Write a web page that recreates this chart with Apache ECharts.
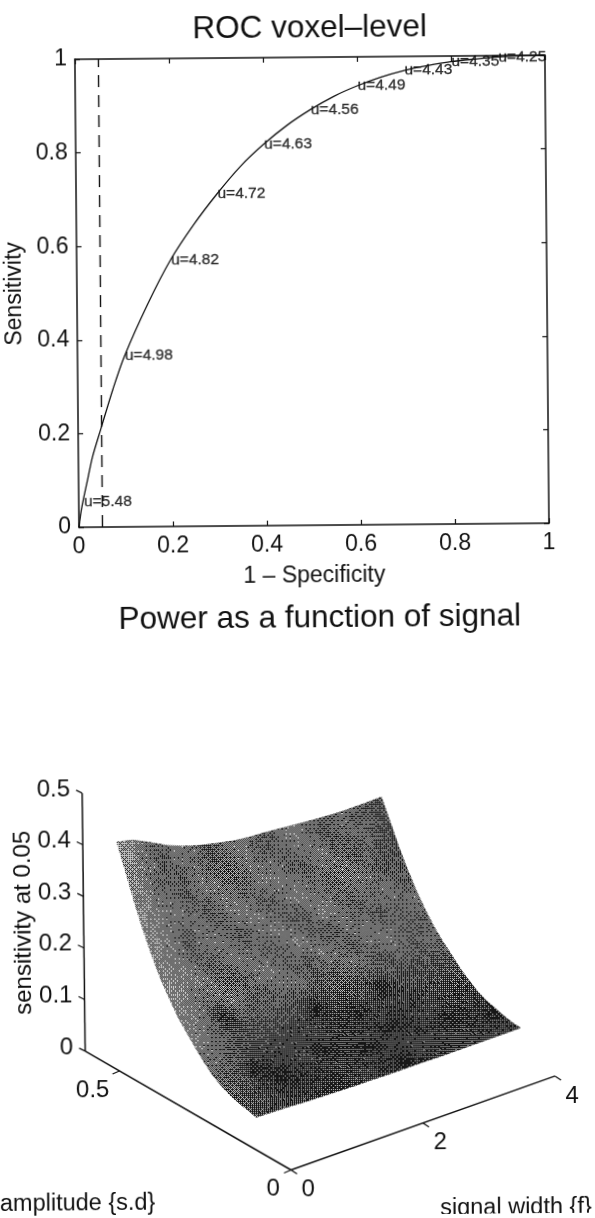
<!DOCTYPE html>
<html>
<head>
<meta charset="utf-8">
<script src="https://cdn.jsdelivr.net/npm/echarts@6/dist/echarts.min.js"></script>
<style>
html, body { margin: 0; padding: 0; background: #fff; overflow: hidden; }
/* the source page was scanned slightly crooked */
#chart { width: 595px; height: 1218px; transform-origin: 0 1218px; transform: rotate(-0.5deg); }
</style>
</head>
<body>
<div id="chart"></div>
<script>
// ROC curve
var rocX = [0, 0.002, 0.005, 0.01, 0.02, 0.03, 0.05, 0.075, 0.1, 0.15, 0.2, 0.25, 0.3, 0.35, 0.4, 0.45, 0.5, 0.55, 0.6, 0.65, 0.7, 0.75, 0.8, 0.85, 0.9, 0.95, 1];
var rocY = [0, 0.015, 0.035, 0.06, 0.105, 0.15, 0.215, 0.295, 0.365, 0.475, 0.57, 0.645, 0.71, 0.768, 0.815, 0.855, 0.888, 0.916, 0.938, 0.956, 0.97, 0.98, 0.988, 0.993, 0.997, 0.999, 1];
var dashX = [0.05, 0.05];
var dashY = [0, 1];
var uNames = ['u=5.48', 'u=4.98', 'u=4.82', 'u=4.72', 'u=4.63', 'u=4.56', 'u=4.49', 'u=4.43', 'u=4.35', 'u=4.25'];
var uX = [0.01, 0.1, 0.2, 0.3, 0.4, 0.5, 0.6, 0.7, 0.8, 0.9];
var uY = [0.055, 0.365, 0.57, 0.71, 0.815, 0.888, 0.938, 0.97, 0.988, 0.997];

// power surface: rows follow amplitudes, columns follow widths
var widths = [0, 0.25, 0.5, 0.75, 1, 1.25, 1.5, 1.75, 2, 2.25, 2.5, 2.75, 3, 3.25, 3.5, 3.75, 4];
var amplitudes = [0.1, 0.125, 0.15, 0.175, 0.2, 0.225, 0.25, 0.275, 0.3, 0.325, 0.35, 0.375, 0.4, 0.425, 0.45, 0.475, 0.5];
var power = [
    [.064,.063,.062,.060,.059,.058,.057,.057,.056,.056,.056,.055,.055,.055,.055,.055,.055],
    [.068,.067,.065,.063,.061,.060,.059,.058,.058,.057,.057,.057,.056,.056,.056,.056,.056],
    [.072,.071,.069,.067,.065,.064,.063,.062,.062,.061,.061,.061,.060,.060,.060,.060,.060],
    [.077,.076,.074,.072,.070,.069,.068,.067,.067,.066,.066,.066,.065,.065,.065,.065,.065],
    [.085,.084,.081,.079,.076,.075,.074,.073,.072,.072,.071,.071,.070,.070,.070,.070,.070],
    [.096,.095,.092,.088,.086,.084,.083,.081,.081,.080,.080,.079,.078,.078,.078,.078,.078],
    [.112,.110,.107,.103,.099,.097,.096,.094,.093,.093,.092,.091,.090,.090,.090,.090,.090],
    [.130,.128,.123,.118,.115,.112,.110,.108,.107,.106,.105,.104,.104,.103,.103,.103,.103],
    [.150,.148,.143,.137,.133,.130,.128,.125,.124,.123,.123,.122,.121,.120,.120,.120,.120],
    [.170,.167,.162,.155,.151,.147,.145,.142,.141,.140,.139,.138,.137,.136,.136,.136,.136],
    [.196,.193,.186,.178,.173,.169,.165,.162,.161,.160,.158,.157,.156,.155,.155,.155,.155],
    [.225,.221,.213,.205,.198,.194,.190,.186,.185,.183,.182,.180,.179,.178,.178,.178,.178],
    [.260,.256,.246,.236,.229,.223,.219,.215,.213,.211,.210,.208,.206,.205,.205,.205,.205],
    [.300,.295,.284,.272,.264,.257,.252,.248,.245,.243,.241,.239,.237,.236,.236,.236,.236],
    [.345,.339,.326,.313,.302,.295,.289,.284,.281,.279,.276,.274,.272,.270,.270,.270,.270],
    [.395,.388,.374,.358,.347,.338,.331,.325,.322,.320,.317,.314,.312,.310,.310,.310,.310],
    [.444,.436,.420,.403,.390,.380,.373,.366,.362,.360,.357,.354,.351,.349,.348,.348,.349]
];
// brightness of each surface patch, 0 black to 100 white
var shades = [
    [32,30,28,27,26,24,26,25,22,13,24,26,28,27,26,27],
    [34,30,27,26,25,24,25,26,24,16,26,24,27,28,25,24],
    [36,31,26,16,20,25,27,26,25,26,27,26,28,24,26,15],
    [38,33,25,14,24,27,26,24,14,25,27,24,25,14,26,22],
    [42,34,13,24,28,27,13,26,25,26,13,25,28,26,27,28],
    [46,38,28,30,27,26,28,27,26,25,27,26,24,28,27,30],
    [50,42,32,33,30,29,31,28,27,14,28,30,29,28,30,32],
    [54,44,34,36,34,33,32,14,30,32,33,14,32,34,33,35],
    [56,46,15,40,38,42,37,34,36,37,35,38,40,36,38,37],
    [58,50,44,54,42,38,46,52,40,38,48,44,36,46,42,44],
    [60,52,56,40,38,50,54,40,38,52,46,38,50,52,40,42],
    [58,54,42,38,52,50,38,44,56,44,36,48,50,38,44,48],
    [60,50,38,54,48,36,50,56,42,38,54,50,36,46,50,40],
    [62,52,52,44,36,54,52,38,44,58,48,36,50,48,38,36],
    [60,46,40,36,52,50,36,48,56,42,38,54,46,36,44,34],
    [64,50,38,50,46,34,48,52,38,44,56,44,36,48,40,36]
];

// 3d axes
var powerTicks = [0, 0.1, 0.2, 0.3, 0.4, 0.5];
var ampTicks = [0, 0.5];
var widthTicks = [0, 2, 4];
var ampEnd = 0.6;

var font = '"Liberation Sans", Arial, sans-serif';
var ink = '#111';

// view of the 3d box on the page, px per unit of each axis
var origin = [291.4, 1172.5];
var perWidth = [66.2, -22.9];
var perAmp = [-341.3, -201];
var perPower = [-1.5, -516];

function project(w, a, z) {
    return [
        origin[0] + w * perWidth[0] + a * perAmp[0] + z * perPower[0],
        origin[1] + w * perWidth[1] + a * perAmp[1] + z * perPower[1]
    ];
}

// ordered dither with a little fixed grain, the surface was printed as a halftone
var bayer = [[0, 8, 2, 10], [12, 4, 14, 6], [3, 11, 1, 9], [15, 7, 13, 5]];
function grain(x, y) {
    var n = Math.sin(x * 12.9898 + y * 78.233) * 43758.5453;
    return n - Math.floor(n);
}
var patterns = {};
function halftone(shade) {
    var level = Math.round(shade / 2) * 2;
    if (patterns[level]) return patterns[level];
    var c = document.createElement('canvas');
    c.width = c.height = 64;
    var ctx = c.getContext('2d');
    for (var y = 0; y < 64; y++) {
        for (var x = 0; x < 64; x++) {
            var t = (bayer[y % 4][x % 4] + 0.5) / 16 * 85 + grain(x, y) * 15;
            ctx.fillStyle = t < level ? '#c8c8c8' : '#161616';
            ctx.fillRect(x, y, 1, 1);
        }
    }
    patterns[level] = { image: c, repeat: 'repeat' };
    return patterns[level];
}

var cells = [];
for (var r = 0; r < shades.length; r++) {
    for (var k = 0; k < shades[r].length; k++) {
        cells.push([k, r, shades[r][k]]);
    }
}

function mix(a, b, t) { return a + (b - a) * t; }

// read a grid at fractional row and column
function sample(grid, rr, cc) {
    var r0 = Math.max(0, Math.min(grid.length - 1, Math.floor(rr)));
    var r1 = Math.min(grid.length - 1, r0 + 1);
    var c0 = Math.max(0, Math.min(grid[0].length - 1, Math.floor(cc)));
    var c1 = Math.min(grid[0].length - 1, c0 + 1);
    var tr = Math.max(0, Math.min(1, rr - r0));
    var tc = Math.max(0, Math.min(1, cc - c0));
    return mix(mix(grid[r0][c0], grid[r0][c1], tc), mix(grid[r1][c0], grid[r1][c1], tc), tr);
}

var subRows = 4, subCols = 3;
function surfacePoint(api, rr, cc) {
    var w = widths[0] + (widths[16] - widths[0]) * cc / 16;
    var a = amplitudes[0] + (amplitudes[16] - amplitudes[0]) * rr / 16;
    return api.coord(project(w, a, sample(power, rr, cc)));
}

function renderCell(params, api) {
    var k = api.value(0), r = api.value(1);
    var parts = [];
    for (var i = 0; i < subRows; i++) {
        for (var j = 0; j < subCols; j++) {
            var r0 = r + i / subRows, r1 = r + (i + 1) / subRows;
            var c0 = k + j / subCols, c1 = k + (j + 1) / subCols;
            // patch shades sit at patch centres
            var fill = halftone(sample(shades, (r0 + r1) / 2 - 0.5, (c0 + c1) / 2 - 0.5));
            parts.push({
                type: 'polygon',
                shape: { points: [surfacePoint(api, r0, c0), surfacePoint(api, r0, c1), surfacePoint(api, r1, c1), surfacePoint(api, r1, c0)] },
                style: { fill: fill, stroke: fill, lineWidth: 0.8 }
            });
        }
    }
    return { type: 'group', children: parts };
}

function axisLine(api, from, to, width) {
    var a = api.coord(from), b = api.coord(to);
    return { type: 'line', shape: { x1: a[0], y1: a[1], x2: b[0], y2: b[1] }, style: { stroke: ink, lineWidth: width } };
}

function axisTick(api, at, tick, label, off, align) {
    var p = api.coord(at);
    return {
        type: 'group',
        children: [
            { type: 'line', shape: { x1: p[0], y1: p[1], x2: p[0] + tick[0], y2: p[1] + tick[1] }, style: { stroke: ink, lineWidth: 1.2 } },
            { type: 'text', x: p[0] + off[0], y: p[1] + off[1], style: { text: label, fill: ink, font: '24px ' + font, textAlign: align, textVerticalAlign: 'middle' } }
        ]
    };
}

// one row per 3d axis element: [kind, value]
var boxItems = [['lines', 0]];
powerTicks.forEach(function (v) { boxItems.push(['power', v]); });
ampTicks.forEach(function (v) { boxItems.push(['amp', v]); });
widthTicks.forEach(function (v) { boxItems.push(['width', v]); });

function renderBox(params, api) {
    var item = boxItems[params.dataIndex], v = item[1];
    if (item[0] === 'lines') {
        return {
            type: 'group',
            children: [
                axisLine(api, project(0, ampEnd, 0), project(0, ampEnd, 0.5), 1.5),
                axisLine(api, project(0, 0, 0), project(0, ampEnd, 0), 1.5),
                axisLine(api, project(0, 0, 0), project(4, 0, 0), 1.5)
            ]
        };
    }
    if (item[0] === 'power') return axisTick(api, project(0, ampEnd, v), [-6, -3], String(v), [-12, -4], 'right');
    if (item[0] === 'amp') return axisTick(api, project(0, v, 0), [-7, 3], String(v), v ? [-27, 19] : [-18, 19], 'center');
    return axisTick(api, project(v, 0, 0), [6, 4], String(v), [17, 20], 'center');
}

var plotAxis = {
    gridIndex: 0, type: 'value', min: 0, max: 1, interval: 0.2,
    axisLine: { show: true, onZero: false, lineStyle: { color: ink, width: 1.5 } },
    axisTick: { show: true, inside: true, length: 5, lineStyle: { color: ink, width: 1.2 } },
    splitLine: { show: false }
};
var tickText = { color: ink, fontSize: 23, fontFamily: font, margin: 8 };
var nameText = { color: ink, fontSize: 23, fontFamily: font };

var myChart = echarts.init(document.getElementById('chart'));
myChart.setOption({
    animation: false,
    backgroundColor: '#fff',
    title: [
        { text: 'ROC voxel\u2013level', left: 320, top: 15, textAlign: 'center', padding: 0, textStyle: { color: ink, fontSize: 31.5, fontWeight: 'normal', fontFamily: font } },
        { text: 'Power as a function of signal', left: 325, top: 605, textAlign: 'center', padding: 0, textStyle: { color: ink, fontSize: 31.5, fontWeight: 'normal', fontFamily: font } }
    ],
    grid: [
        { left: 85, top: 60, width: 470, height: 468 },
        { left: 0, top: 0, width: 595, height: 1218 }
    ],
    xAxis: [
        Object.assign({}, plotAxis, {
            position: 'bottom', name: '1 \u2013 Specificity', nameLocation: 'middle', nameGap: 39, nameTextStyle: nameText,
            axisLabel: tickText
        }),
        Object.assign({}, plotAxis, { position: 'top', axisLabel: { show: false } }),
        { gridIndex: 1, type: 'value', min: 0, max: 595, show: false }
    ],
    yAxis: [
        Object.assign({}, plotAxis, {
            position: 'left', name: 'Sensitivity', nameLocation: 'middle', nameGap: 40, nameTextStyle: nameText,
            axisLabel: tickText
        }),
        Object.assign({}, plotAxis, { position: 'right', axisLabel: { show: false } }),
        { gridIndex: 1, type: 'value', min: 0, max: 1218, inverse: true, show: false }
    ],
    graphic: [
        { type: 'text', x: 26.6, y: 923, rotation: Math.PI / 2, style: { text: 'sensitivity at 0.05', fill: ink, font: '24px ' + font, textAlign: 'center', textVerticalAlign: 'middle' } },
        { type: 'text', x: 0, y: 1205, style: { text: 'amplitude {s.d}', fill: ink, font: '23.5px ' + font, textAlign: 'left', textVerticalAlign: 'middle' } },
        { type: 'text', x: 516, y: 1213, style: { text: 'signal width {f}', fill: ink, font: '23.5px ' + font, textAlign: 'center', textVerticalAlign: 'middle' } }
    ],
    series: [
        {
            type: 'line', xAxisIndex: 0, yAxisIndex: 0, smooth: 0.3, showSymbol: false,
            data: rocX.map(function (x, i) { return [x, rocY[i]]; }),
            lineStyle: { color: ink, width: 1.3 }
        },
        {
            type: 'line', xAxisIndex: 0, yAxisIndex: 0, showSymbol: false,
            data: dashX.map(function (x, i) { return [x, dashY[i]]; }),
            lineStyle: { color: ink, width: 1.4, type: [12, 8] }
        },
        {
            type: 'scatter', xAxisIndex: 0, yAxisIndex: 0, symbolSize: 1,
            itemStyle: { color: 'transparent' },
            data: uX.map(function (x, i) { return [x, uY[i], uNames[i]]; }),
            label: {
                show: true, position: 'right', distance: 0, color: '#000', fontSize: 15.5, fontFamily: font,
                textBorderColor: '#000', textBorderWidth: 0.3,
                formatter: function (p) { return p.value[2]; }
            }
        },
        {
            type: 'custom', xAxisIndex: 2, yAxisIndex: 2, coordinateSystem: 'cartesian2d',
            clip: false, silent: true, renderItem: renderCell, data: cells
        },
        {
            type: 'custom', xAxisIndex: 2, yAxisIndex: 2, coordinateSystem: 'cartesian2d',
            clip: false, silent: true, renderItem: renderBox,
            data: boxItems.map(function (b, i) { return [i, b[1]]; })
        }
    ]
});
</script>
</body>
</html>
